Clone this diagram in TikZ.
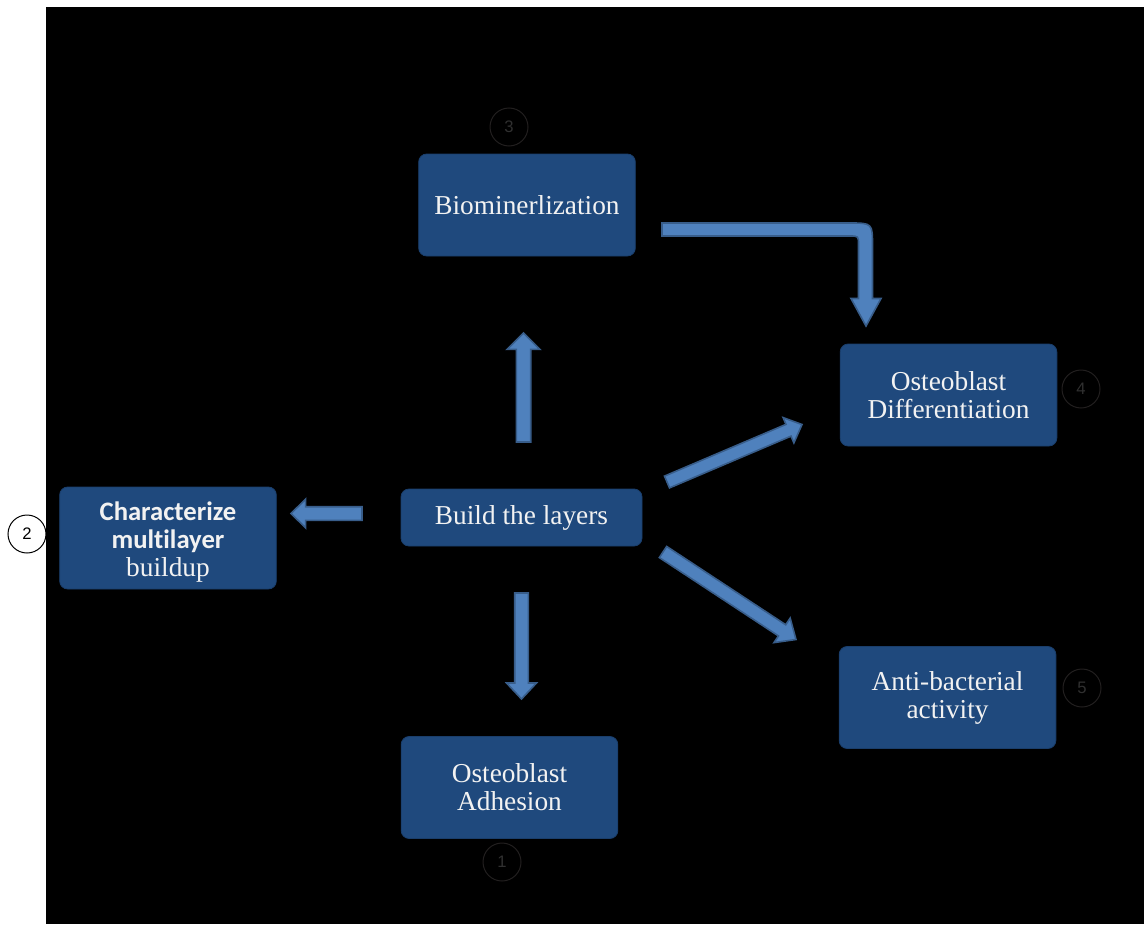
\documentclass[tikz,border=0pt]{standalone}
\usepackage{fontspec}
\setmainfont{Liberation Serif}
\newfontfamily\numfont{Liberation Sans}
\newfontfamily\cbfont[Ligatures={NoCommon}]{Carlito}
\usetikzlibrary{calc}
\definecolor{boxfill}{RGB}{31,73,125}
\definecolor{boxline}{RGB}{26,62,107}
\definecolor{arrfill}{RGB}{79,129,189}
\definecolor{arrline}{RGB}{56,93,138}
\definecolor{dimline}{RGB}{34,31,31}
\definecolor{dimtext}{RGB}{48,48,48}
\definecolor{boxtext}{RGB}{242,242,242}
\tikzset{
  box/.style={rectangle, draw=boxline, fill=boxfill, rounded corners=6pt, line width=0.6pt,
    text=boxtext, font=\fontsize{20.5}{21}\selectfont, align=center, inner sep=0pt,
    minimum width=162.5pt, minimum height=76.5pt},
  numc/.style={circle, draw=dimline, line width=0.75pt, minimum size=28.5pt, inner sep=0pt,
    text=dimtext, font=\numfont\fontsize{12.5}{12.5}\selectfont},
  numw/.style={numc, draw=black, fill=white, text=black},
  blk/.style={draw=arrline, fill=arrfill, line width=1.2pt, line join=miter}
}
% block arrow: from, to, half shaft, half head, head length
\newcommand\barrow[5]{%
  \coordinate (#1-#2-n) at ($(#2)!#5!(#1)$);
  \draw[blk] ($(#1)!#3!90:(#2)$) -- ($(#1-#2-n)!#3!90:(#2)$) -- ($(#1-#2-n)!#4!90:(#2)$) -- (#2)
    -- ($(#1-#2-n)!#4!-90:(#2)$) -- ($(#1-#2-n)!#3!-90:(#2)$) -- ($(#1)!#3!-90:(#2)$) -- cycle;
}
\begin{document}
\begin{tikzpicture}[x=0.75pt,y=-0.75pt]
\useasboundingbox (0,0) rectangle (1144,924);
\fill[white] (0,0) rectangle (1144,924);
\fill[black] (46,7) rectangle (1144,924);

% boxes
\node[box] (bio) at (527,205) {Biominerlization};
\node[box] (diff) at (948.5,395) {Osteoblast\\Differentiation};
\node[box, minimum width=180.75pt, minimum height=42.75pt] (build) at (521.5,517.5) {Build the layers};
\node[box] (char) at (168,538) {\cbfont\bfseries\fontsize{20}{21.6}\selectfont\rule{0pt}{20pt}Characterize\\\cbfont\bfseries\fontsize{20}{21.6}\selectfont multilayer\\\rmfamily\mdseries\fontsize{20.5}{21.6}\selectfont buildup};
\node[box] (adh) at (509.5,787.5) {Osteoblast\\Adhesion};
\node[box] (anti) at (947.5,697.5) {Anti-bacterial\\activity};

% numbers
\node[numc] (n3) at (509,127) {3};
\node[numc] (n4) at (1081,389) {4};
\node[numc] (n5) at (1082,688) {5};
\node[numc] (n1) at (502,862) {1};
\node[numw] (n2) at (27,534) {2};

% arrow end points
\coordinate (upA) at (523.5,442);
\coordinate (upB) at (523.5,333);
\coordinate (lfA) at (362,513.5);
\coordinate (lfB) at (291,513.5);
\coordinate (dnA) at (521.5,593);
\coordinate (dnB) at (521.5,699);
\coordinate (dgA) at (667,482);
\coordinate (dgB) at (802,424.5);
\coordinate (drA) at (663,552);
\coordinate (drB) at (796,639.5);

\barrow{upA}{upB}{5.4pt}{12.3pt}{12.3pt}
\barrow{lfA}{lfB}{5.1pt}{10.8pt}{11pt}
\barrow{dnA}{dnB}{5.1pt}{11.2pt}{12pt}
\barrow{dgA}{dgB}{4.8pt}{10.3pt}{11pt}
\barrow{drA}{drB}{5pt}{11pt}{12.5pt}

% bent arrow
\coordinate (bnA) at (662,229);
\coordinate (bnB) at (866,326);
\draw[blk] (662,223) -- (849,223) .. controls (872.5,223) .. (872.5,246.5) -- (872.5,298.5)
  -- (881,298.5) -- (bnB) -- (851,298.5) -- (858.5,298.5) -- (858.5,245)
  .. controls (858.5,236) .. (849.5,236) -- (662,236) -- cycle;
\end{tikzpicture}
\end{document}
